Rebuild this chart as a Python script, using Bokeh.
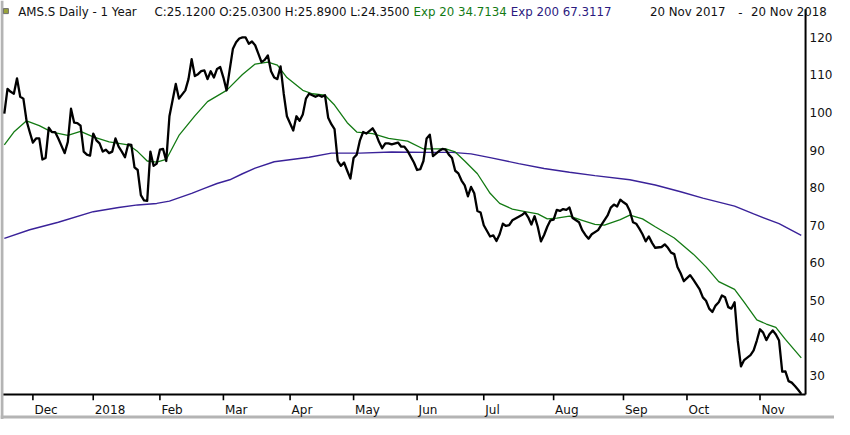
from bokeh.plotting import figure
from bokeh.models import Range1d
from bokeh.embed import file_html
from bokeh.resources import INLINE
from bokeh.core.properties import value

# x = trading-day number counted from 20 Nov 2017 (day 0) to 20 Nov 2018 (day 251)
price_day = [0, 1, 2, 3, 4, 5, 6, 7, 8, 9, 10, 11, 12, 13, 14, 15, 16, 17, 19, 20,
             21, 22, 23, 24, 25, 26, 27, 28, 29, 30, 31, 32, 33, 34, 35, 36, 37, 38, 39, 40,
             41, 42, 43, 44, 45, 46, 47, 48, 49, 50, 51, 52, 54, 55, 57, 58, 59, 60, 61, 62,
             63, 64, 65, 66, 67, 68, 69, 70, 71, 72, 73, 74, 75, 76, 77, 78, 79, 80, 81, 82,
             83, 84, 85, 86, 87, 88, 89, 91, 92, 93, 94, 95, 96, 98, 99, 100, 101, 102, 103, 104,
             105, 106, 107, 108, 109, 110, 111, 112, 113, 114, 116, 117, 118, 119, 120, 121, 122, 124, 125, 126,
             127, 129, 130, 131, 132, 133, 134, 135, 137, 138, 139, 140, 141, 142, 143, 144, 145, 146, 147, 148,
             149, 150, 151, 153, 154, 155, 156, 157, 158, 159, 160, 163, 164, 165, 166, 167, 168, 169, 170, 171,
             172, 173, 174, 175, 176, 177, 178, 179, 181, 182, 183, 184, 185, 187, 188, 190, 191, 192, 193, 194,
             195, 196, 197, 198, 199, 200, 201, 202, 203, 204, 205, 207, 208, 209, 210, 211, 212, 213, 214, 215,
             216, 217, 219, 220, 221, 222, 223, 224, 225, 226, 227, 228, 229, 230, 231, 232, 233, 235, 236, 237,
             238, 239, 240, 241, 242, 243, 244, 245, 246, 247, 248, 249, 250, 251]
price_close = [99.7, 106.3, 105.5, 105.0, 109.1, 104.2, 103.7, 97.8, 94.8, 92.0, 93.1, 93.1, 87.5, 87.9, 96.0, 94.8, 94.8, 93.1, 89.2, 92.2,
               101.0, 97.3, 97.2, 96.5, 89.6, 88.8, 88.5, 94.4, 92.6, 91.8, 89.6, 90.1, 89.2, 89.6, 93.1, 90.9, 89.6, 88.1, 91.5, 91.4,
               85.4, 84.7, 78.0, 76.6, 76.5, 89.6, 85.8, 86.4, 90.1, 90.3, 87.1, 99.0, 107.6, 103.7, 105.9, 108.9, 114.2, 109.7, 110.2, 111.0,
               111.2, 108.9, 111.0, 109.3, 111.6, 112.1, 109.3, 105.9, 111.5, 117.0, 118.7, 119.7, 120.0, 120.0, 118.3, 118.9, 117.9, 115.7, 113.4, 114.0,
               115.2, 111.0, 109.3, 108.9, 112.3, 105.0, 99.0, 95.2, 99.0, 97.8, 99.5, 103.7, 105.0, 104.2, 104.6, 104.2, 104.6, 98.6, 96.9, 95.6,
               87.1, 85.8, 86.7, 84.5, 82.4, 87.9, 88.8, 92.6, 94.8, 94.4, 95.8, 94.4, 92.2, 90.5, 91.8, 91.8, 91.5, 92.0, 90.9, 90.9,
               89.8, 86.7, 84.7, 84.9, 87.1, 93.1, 94.1, 88.4, 89.8, 90.3, 90.1, 88.8, 87.9, 84.5, 83.8, 81.9, 80.6, 77.7, 80.2, 78.5,
               73.8, 73.4, 70.0, 67.0, 67.3, 65.8, 67.6, 70.4, 69.8, 70.0, 71.3, 72.7, 73.4, 72.1, 70.2, 72.4, 69.6, 65.7, 67.4, 69.6,
               71.3, 71.5, 74.1, 73.8, 74.3, 74.1, 74.7, 71.9, 70.8, 68.7, 67.4, 66.4, 67.6, 68.7, 70.0, 72.6, 74.7, 75.5, 75.0, 76.8,
               76.1, 75.5, 73.8, 70.8, 70.4, 69.1, 67.6, 65.7, 67.0, 65.3, 64.0, 64.2, 64.9, 64.0, 62.7, 62.3, 58.9, 57.2, 55.1, 55.9,
               56.7, 55.5, 52.9, 50.8, 49.9, 47.8, 46.9, 48.6, 49.5, 51.3, 50.8, 48.2, 47.8, 49.5, 39.2, 32.4, 34.1, 35.4, 36.7, 39.3,
               42.3, 41.4, 39.4, 41.0, 42.0, 40.9, 39.3, 31.0, 31.1, 28.5, 28.1, 27.2, 26.2, 25.1]

ema20_day = [0, 3, 7, 11, 15, 20, 24, 28, 33, 39, 42, 45, 48, 51, 55, 60, 64, 70, 75, 79,
             83, 86, 89, 94, 97, 101, 104, 108, 111, 116, 121, 127, 132, 136, 139, 142, 145, 149, 153, 156,
             160, 164, 168, 171, 174, 178, 182, 186, 189, 194, 197, 201, 205, 211, 217, 221, 225, 230, 233, 237,
             240, 243, 246, 251]
ema20_value = [91.4, 94.8, 97.8, 96.5, 94.8, 93.9, 95.0, 93.5, 92.2, 91.4, 89.6, 87.1, 86.8, 87.5, 93.9, 99.1, 102.9, 105.9, 110.1, 112.9,
               113.4, 112.6, 109.3, 105.9, 105.0, 104.6, 102.0, 97.3, 94.8, 94.4, 93.1, 92.4, 90.3, 90.3, 90.3, 89.5, 87.1, 83.7, 78.5, 75.8,
               74.3, 73.6, 73.0, 71.7, 71.9, 72.4, 71.3, 70.2, 70.0, 71.5, 72.7, 71.7, 69.6, 66.6, 62.3, 58.9, 55.0, 52.9, 49.5, 44.8,
               43.7, 42.8, 39.6, 34.7]

ema200_day = [0, 8, 17, 28, 36, 42, 48, 52, 59, 63, 67, 71, 75, 79, 85, 96, 103, 112, 122, 133,
              141, 147, 153, 162, 170, 178, 186, 197, 205, 213, 220, 230, 236, 244, 251]
ema200_value = [66.5, 68.8, 70.8, 73.6, 74.7, 75.4, 75.8, 76.4, 78.5, 79.8, 81.1, 82.1, 83.7, 85.2, 86.9, 88.1, 89.2, 89.2, 89.5, 89.4,
                89.4, 89.0, 88.0, 86.4, 85.1, 84.1, 83.2, 82.1, 80.7, 78.9, 77.2, 75.1, 73.0, 70.4, 67.3]

month_start_day = [9, 28, 49, 69, 90, 110, 130, 151, 173, 195, 215, 238]
month_labels = ["Dec", "2018", "Feb", "Mar", "Apr", "May", "Jun", "Jul", "Aug", "Sep", "Oct", "Nov"]
price_ticks = [30, 40, 50, 60, 70, 80, 90, 100, 110, 120]

header_texts = ["AMS.S Daily -  1 Year", "C:25.1200 O:25.0300 H:25.8900 L:24.3500",
                "Exp 20 34.7134", "Exp 200 67.3117", "20 Nov 2017", "-", "20 Nov 2018"]

# ---------------- layout / styling ----------------
FONT = "DejaVu Sans"
GREEN = "#137a13"
PURPLE = "#3a2299"
HEADER_COLORS = ["#111111", "#111111", GREEN, "#2b1a80", "#111111", "#111111", "#111111"]
HEADER_PX = [18, 157, 421, 520, 662, 752, 765]        # left edges in the 850 px design

W, H = 834, 419
DESIGN_W, DESIGN_H = 850, 435
PX_PER_DAY, DAY0_PX = 3.236, 3.9                       # design-space day scale
PX_PER_UNIT, TOP_VALUE = 3.9, 129.82                   # design-space price scale


def day_at(px):
    return (px - DAY0_PX) / PX_PER_DAY


def val_at(py):
    return TOP_VALUE - py / PX_PER_UNIT


x_lo, x_hi = day_at(0), day_at(DESIGN_W)
y_lo, y_hi = val_at(DESIGN_H), val_at(0)
axis_day = day_at(820.5)          # right price axis
axis_val = val_at(409)            # bottom time axis
tick_end = val_at(415)
label_val = val_at(425)
header_val = val_at(12)

p = figure(width=W, height=H, output_backend="svg", toolbar_location=None,
           x_range=Range1d(x_lo, x_hi), y_range=Range1d(y_lo, y_hi),
           x_axis_location=None, y_axis_location=None,
           min_border=0, min_border_left=0, min_border_right=0,
           min_border_top=0, min_border_bottom=0)
p.xgrid.visible = False
p.ygrid.visible = False
p.outline_line_color = None
p.background_fill_color = "white"
p.border_fill_color = "white"

# window frame (grey) on the left and bottom
p.segment(x0=[day_at(1.5)], y0=[y_lo], x1=[day_at(1.5)], y1=[y_hi], line_color="#b4b4b4", line_width=3)
p.segment(x0=[x_lo], y0=[val_at(432.5)], x1=[x_hi], y1=[val_at(432.5)], line_color="#b4b4b4", line_width=3)

# series
p.line(ema200_day, ema200_value, line_color=PURPLE, line_width=1.4)
p.line(ema20_day, ema20_value, line_color=GREEN, line_width=1.3)
p.line(price_day, price_close, line_color="black", line_width=2.3, line_join="round")

# time axis (bottom): line, month ticks hanging below, labels to the right of the ticks
p.segment(x0=[day_at(3)], y0=[axis_val], x1=[axis_day], y1=[axis_val], line_color="black", line_width=2)
n = len(month_start_day)
p.segment(x0=month_start_day, y0=[axis_val] * n, x1=month_start_day, y1=[tick_end] * n,
          line_color="black", line_width=1.6)
p.text(x=month_start_day, y=[label_val] * n, text=month_labels, x_offset=1.5,
       text_align="left", text_baseline="middle", text_font=value(FONT),
       text_font_size="12px", text_color="#111111")

# price axis (right): line and labels
p.segment(x0=[axis_day], y0=[axis_val], x1=[axis_day], y1=[val_at(9)], line_color="black", line_width=2)
p.text(x=[axis_day] * len(price_ticks), y=price_ticks, text=[str(t) for t in price_ticks],
       x_offset=4, text_align="left", text_baseline="middle", text_font=value(FONT),
       text_font_size="12px", text_color="#111111")

# header line with its small symbol box
p.scatter(x=[day_at(5.5)], y=[val_at(11)], marker="square", size=5,
          fill_color="#9aa43a", line_color="#6e6e6e", line_width=1)
p.text(x=[day_at(px) for px in HEADER_PX], y=[header_val] * len(header_texts), text=header_texts,
       text_align="left", text_baseline="middle", text_font=value(FONT), text_font_size="11.8px",
       text_color=HEADER_COLORS)

open("out.html", "w").write(file_html(p, INLINE))
